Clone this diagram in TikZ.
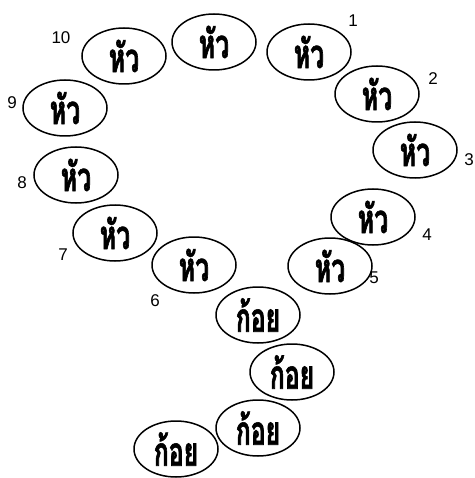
\documentclass[tikz,border=0pt]{standalone}
\usepackage{fontspec}
\setmainfont{Liberation Sans}
\newfontfamily\thaifont[Script=Thai,FakeStretch=0.62,FakeBold=1.5]{Loma}
\usetikzlibrary{shapes.geometric}

\begin{document}
\begin{tikzpicture}[x=1pt, y=-1pt, line width=1.5pt,
                    word/.style = {ellipse, draw, minimum width=84pt, minimum height=56pt, inner sep=0pt,
                                   font=\thaifont\bfseries\fontsize{40}{40}\selectfont},
                    num/.style = {inner sep=0pt, font=\fontsize{17}{17}\selectfont}]
  \useasboundingbox (0,0) rectangle (474,478);

  % heads
  \node [word] (H0) at (214,42){หัว};
  \node [word] (H1) at (309,52){หัว};
  \node [word] (H2) at (377,94){หัว};
  \node [word] (H3) at (415,150){หัว};
  \node [word] (H4) at (373,217){หัว};
  \node [word] (H5) at (330,266){หัว};
  \node [word] (H6) at (194,265){หัว};
  \node [word] (H7) at (115,233){หัว};
  \node [word] (H8) at (76,175){หัว};
  \node [word] (H9) at (65,108){หัว};
  \node [word] (H10) at (124,56){หัว};

  % tails
  \node [word] (T1) at (258,315){ก้อย};
  \node [word] (T2) at (292,372){ก้อย};
  \node [word] (T3) at (258,428){ก้อย};
  \node [word] (T4) at (176,449){ก้อย};

  % numbers
  \node [num] (N1) at (353,21){1};
  \node [num] (N2) at (433,79){2};
  \node [num] (N3) at (469,160){3};
  \node [num] (N4) at (427,235){4};
  \node [num] (N5) at (374,278){5};
  \node [num] (N6) at (155,301){6};
  \node [num] (N7) at (63,255){7};
  \node [num] (N8) at (22,183){8};
  \node [num] (N9) at (12,103){9};
  \node [num] (N10) at (61,38){10};
\end{tikzpicture}
\end{document}
